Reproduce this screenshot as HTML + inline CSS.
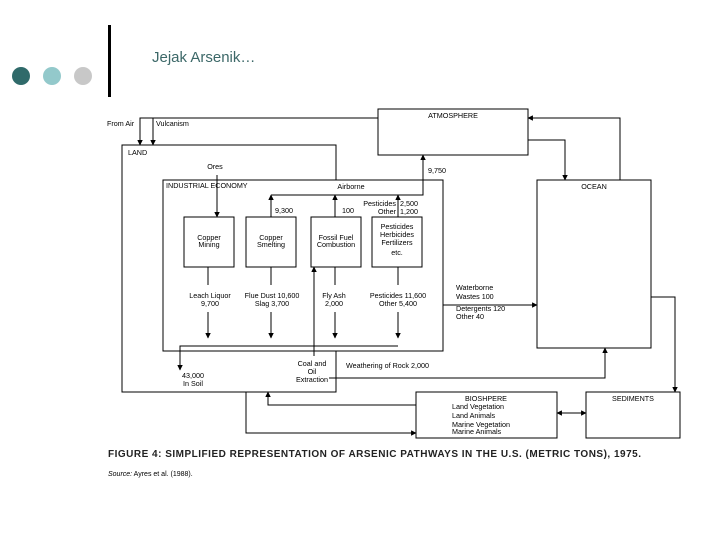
<!DOCTYPE html><html><head><style>body{margin:0;background:#fff}svg{display:block}text{font-family:"Liberation Sans",sans-serif;font-size:7.2px;fill:#000}</style></head><body>
<svg width="728" height="546" viewBox="0 0 728 546" xmlns="http://www.w3.org/2000/svg">
<defs><marker id="a" viewBox="0 0 10 10" refX="9" refY="5" markerWidth="5.5" markerHeight="5.5" orient="auto"><path d="M0,0L10,5L0,10z" fill="#000"/></marker></defs>
<circle cx="21" cy="76" r="9" fill="#2f6a6a"/><circle cx="52" cy="76" r="9" fill="#93c9cb"/><circle cx="83" cy="76" r="9" fill="#c8c8c8"/>
<rect x="108" y="25" width="3" height="72" fill="#000"/>
<text x="152" y="62" style="font-size:15px;fill:#3c6868">Jejak Arsenik…</text>
<g fill="none" stroke="#000" stroke-width="1">
<rect x="378" y="109" width="150" height="46"/>
<rect x="537" y="180" width="114" height="168"/>
<rect x="416" y="392" width="141" height="46"/>
<rect x="586" y="392" width="94" height="46"/>
<path d="M246,392H122V145H336V180"/><path d="M336,351V392H246"/>
<rect x="163" y="180" width="280" height="171"/>
<rect x="184" y="217" width="50" height="50"/><rect x="246" y="217" width="50" height="50"/><rect x="311" y="217" width="50" height="50"/><rect x="372" y="217" width="50" height="50"/>
<path d="M378,118H140V145" marker-end="url(#a)"/><path d="M153,118V145" marker-end="url(#a)"/>
<path d="M620,180V118H528" marker-end="url(#a)"/><path d="M528,140H565V180" marker-end="url(#a)"/>
<path d="M271,195H423V155" marker-end="url(#a)"/><path d="M271,217V195" marker-end="url(#a)"/><path d="M335,217V195" marker-end="url(#a)"/><path d="M398,217V195" marker-end="url(#a)"/>
<path d="M217,175V217" marker-end="url(#a)"/>
<path d="M208,267V285M271,267V285M335,267V285M398,267V285"/>
<path d="M208,312V338" marker-end="url(#a)"/><path d="M271,312V338" marker-end="url(#a)"/><path d="M335,312V338" marker-end="url(#a)"/><path d="M398,312V338" marker-end="url(#a)"/>
<path d="M398,346H180V370" marker-end="url(#a)"/>
<path d="M314,356V267" marker-end="url(#a)"/>
<path d="M329,378H605V348" marker-end="url(#a)"/>
<path d="M443,305H537" marker-end="url(#a)"/>
<path d="M651,297H675V392" marker-end="url(#a)"/>
<path d="M416,405H268V392" marker-end="url(#a)"/>
<path d="M246,392V433H416" marker-end="url(#a)"/>
<path d="M565,413H586" marker-end="url(#a)"/><path d="M578,413H557" marker-end="url(#a)"/>
</g>
<text x="107" y="126">From Air</text><text x="156" y="126">Vulcanism</text>
<text x="453" y="118" text-anchor="middle">ATMOSPHERE</text>
<text x="128" y="155">LAND</text>
<text x="215" y="169" text-anchor="middle">Ores</text>
<text x="166" y="188">INDUSTRIAL  ECONOMY</text>
<text x="351" y="189" text-anchor="middle">Airborne</text>
<text x="428" y="173">9,750</text>
<text x="594" y="189" text-anchor="middle">OCEAN</text>
<text x="275" y="213">9,300</text><text x="342" y="213">100</text>
<text x="396" y="206" text-anchor="end">Pesticides</text><text x="400" y="206">2,500</text>
<text x="396" y="214" text-anchor="end">Other</text><text x="400" y="214">1,200</text>
<g text-anchor="middle">
<text x="209" y="240">Copper</text><text x="209" y="247">Mining</text>
<text x="271" y="240">Copper</text><text x="271" y="247">Smelting</text>
<text x="336" y="240">Fossil Fuel</text><text x="336" y="247">Combustion</text>
<text x="397" y="229">Pesticides</text><text x="397" y="237">Herbicides</text><text x="397" y="245">Fertilizers</text><text x="397" y="255">etc.</text>
<text x="210" y="298">Leach Liquor</text><text x="210" y="306">9,700</text>
<text x="272" y="298">Flue Dust 10,600</text><text x="272" y="306">Slag 3,700</text>
<text x="334" y="298">Fly Ash</text><text x="334" y="306">2,000</text>
<text x="398" y="298">Pesticides 11,600</text><text x="398" y="306">Other 5,400</text>
<text x="193" y="378">43,000</text><text x="193" y="386">In Soil</text>
<text x="312" y="366">Coal and</text><text x="312" y="374">Oil</text><text x="312" y="382">Extraction</text>
<text x="486" y="401">BIOSHPERE</text>
<text x="633" y="401">SEDIMENTS</text>
</g>
<text x="456" y="290">Waterborne</text><text x="456" y="299">Wastes 100</text>
<text x="456" y="311">Detergents 120</text><text x="456" y="319">Other 40</text>
<text x="346" y="368">Weathering of Rock 2,000</text>
<text x="452" y="409">Land Vegetation</text><text x="452" y="418">Land Animals</text><text x="452" y="427">Marine Vegetation</text><text x="452" y="434">Marine Animals</text>
<text x="108" y="457" style="font-size:10px;font-weight:bold;letter-spacing:0.5px;fill:#222">FIGURE 4:  SIMPLIFIED REPRESENTATION OF ARSENIC PATHWAYS IN THE U.S. (METRIC TONS), 1975.</text>
<text x="108" y="476" style="font-size:7px"><tspan font-style="italic">Source:</tspan>  Ayres et al. (1988).</text>
</svg></body></html>
